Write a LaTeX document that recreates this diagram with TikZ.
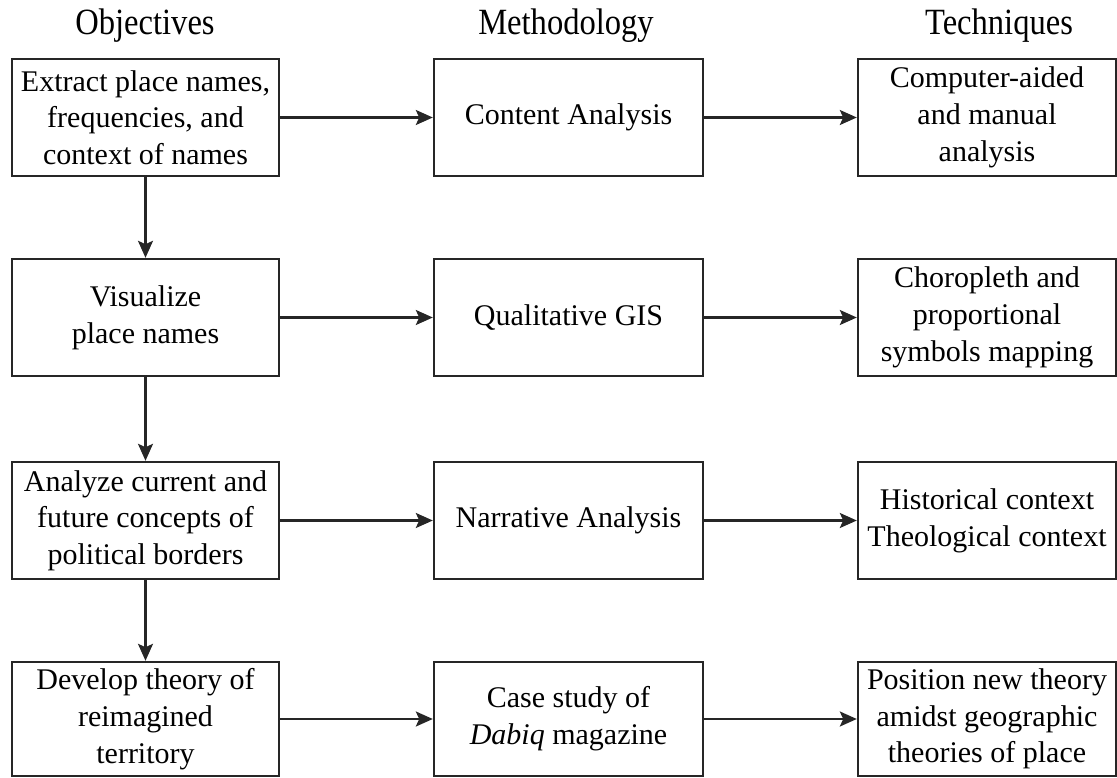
\documentclass[tikz,border=0pt]{standalone}
\usepackage{fontspec}
\setmainfont{Liberation Serif}
\usetikzlibrary{arrows.meta}
\begin{document}
\begin{tikzpicture}[x=1pt,y=-1pt,
  box/.style={draw=black!85, line width=2.4pt, inner sep=0pt, align=center,
    font=\fontsize{30}{36.7}\selectfont, minimum height=117pt},
  lbox/.style={box, minimum width=267pt},
  mbox/.style={box, minimum width=269pt},
  rbox/.style={box, minimum width=258pt},
  arr/.style={line width=2.4pt, draw=black!85, -{Stealth[length=17pt,width=15pt,inset=3.5pt]}},
  hdr/.style={font=\fontsize{37}{40}\selectfont, anchor=base, inner sep=0pt, xscale=0.88}
]
\useasboundingbox (0,0) rectangle (1117,778);

\node[hdr] (h1) at (145,35) {Objectives};
\node[hdr] (h2) at (566,35) {Methodology};
\node[hdr] (h3) at (999,35) {Techniques};

% row 1
\node[lbox] (o1) at (145.5,117.5) {Extract place names,\\frequencies, and\\context of names};
\node[mbox] (m1) at (568.5,117.5) {Content Analysis};
\node[rbox] (t1) at (987,117.5) {Computer-aided\\and manual\\analysis};
% row 2
\node[lbox] (o2) at (145.5,317.5) {Visualize\\place names};
\node[mbox] (m2) at (568.5,317.5) {Qualitative GIS};
\node[rbox] (t2) at (987,317.5) {Choropleth and\\proportional\\symbols mapping};
% row 3
\node[lbox] (o3) at (145.5,520.5) {Analyze current and\\future concepts of\\political borders};
\node[mbox] (m3) at (568.5,520.5) {Narrative Analysis};
\node[rbox] (t3) at (987,520.5) {Historical context\\Theological context};
% row 4
\node[lbox, minimum height=114pt] (o4) at (145.5,719) {Develop theory of\\reimagined\\territory};
\node[mbox, minimum height=114pt] (m4) at (568.5,719) {Case study of\\\textit{Dabiq} magazine};
\node[rbox, minimum height=114pt] (t4) at (987,719) {Position new theory\\amidst geographic\\theories of place};

\draw[arr] (o1) -- (m1);
\draw[arr] (m1) -- (t1);
\draw[arr] (o2) -- (m2);
\draw[arr] (m2) -- (t2);
\draw[arr] (o3) -- (m3);
\draw[arr] (m3) -- (t3);
\draw[arr] (o4) -- (m4);
\draw[arr] (m4) -- (t4);

\draw[arr] (o1) -- (o2);
\draw[arr] (o2) -- (o3);
\draw[arr] (o3) -- (o4);
\end{tikzpicture}
\end{document}
